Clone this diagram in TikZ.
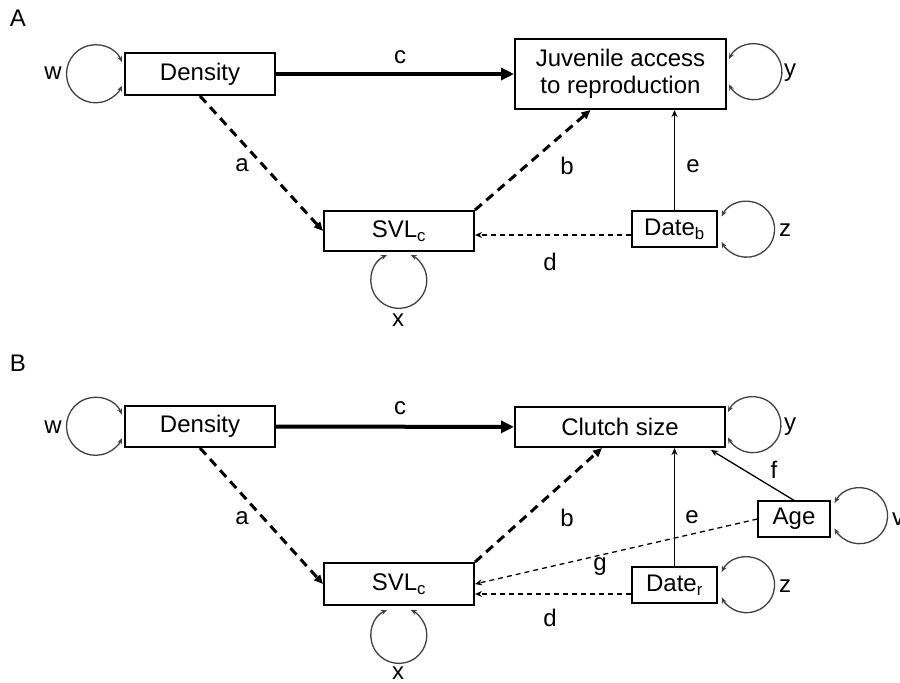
\documentclass[tikz,border=0pt]{standalone}
\usepackage{fontspec}
\setmainfont{Liberation Sans}
\usetikzlibrary{arrows.meta,calc}
\begin{document}
\begin{tikzpicture}[x=1pt,y=1pt,
  every node/.style={font=\fontsize{24}{27}\selectfont},
  box/.style={draw=black,line width=2pt,inner sep=0pt,align=center},
  smallbox/.style={draw=black,line width=1.3pt,inner sep=0pt},
  lab/.style={inner sep=0pt},
  selfloop/.style={draw=black!75,line width=1.3pt,{Stealth[length=6pt,width=5pt]}-{Stealth[length=6pt,width=5pt]}},
  strong/.style={line width=4pt,-{Triangle[length=13pt,width=12pt]}},
  thickdash/.style={line width=3pt,dash pattern=on 9pt off 6pt,-{Triangle[length=9pt,width=8pt]}},
  thindash/.style={line width=1.3pt,dash pattern=on 5pt off 4pt,-{Stealth[length=7pt,width=6pt]}},
  thinline/.style={line width=1.3pt,-{Stealth[length=7pt,width=6pt]}},
]
\useasboundingbox (0,0) rectangle (900,-683);

% ---------- Panel A ----------
\node[lab] (lA) at (18,-18) {A};
\node[box,minimum width=150pt,minimum height=42pt] (densA) at (200,-74) {Density};
\node[box,minimum width=211pt,minimum height=70pt] (juv) at (620.5,-74) {Juvenile access\\to reproduction};
\node[box,minimum width=150pt,minimum height=40pt] (svlA) at (399,-231) {SVL\textsubscript{c}};
\node[smallbox,minimum width=85pt,minimum height=36pt] (dateb) at (674.5,-229) {Date\textsubscript{b}};

\draw[selfloop] ([shift={(-2,12)}]densA.west) arc[start angle=24,end angle=336,radius=29];
\draw[selfloop] ([shift={(2,15)}]juv.east) arc[start angle=153,end angle=-153,radius=28];
\draw[selfloop] ([shift={(4,12.5)}]dateb.east) arc[start angle=153,end angle=-153,radius=28];
\draw[selfloop] ([shift={(-12,-3)}]svlA.south) arc[start angle=115,end angle=425,radius=28];

\draw[strong] (densA) -- (juv);
\draw[thickdash] (densA.south) -- (svlA.west);
\draw[thickdash] (svlA.north east) -- ([xshift=-30pt]juv.south);
\draw[thinline] (dateb.north) -- (dateb.north |- juv.south);
\draw[thindash] ([yshift=-6pt]dateb.west) -- ([yshift=-6pt]dateb.west -| svlA.east);

\node[lab] (wA) at (53,-73) {w};
\node[lab] (cA) at (400,-57) {c};
\node[lab] (yA) at (790,-73) {y};
\node[lab] (aA) at (242,-165) {a};
\node[lab] (bA) at (567,-166) {b};
\node[lab] (eA) at (693,-166) {e};
\node[lab] (zA) at (785,-230) {z};
\node[lab] (dA) at (550,-262) {d};
\node[lab] (xA) at (398,-320) {x};

% ---------- Panel B ----------
\node[lab] (lB) at (18,-363) {B};
\node[box,minimum width=150pt,minimum height=41pt] (densB) at (200,-426.5) {Density};
\node[box,minimum width=210pt,minimum height=40pt] (clutch) at (620,-427) {Clutch size};
\node[box,minimum width=150pt,minimum height=42pt] (svlB) at (399,-584) {SVL\textsubscript{c}};
\node[smallbox,minimum width=85pt,minimum height=36pt] (dater) at (674.5,-585) {Date\textsubscript{r}};
\node[smallbox,minimum width=72pt,minimum height=36pt] (age) at (794,-519) {Age};

\draw[selfloop] ([shift={(-2,12)}]densB.west) arc[start angle=24,end angle=336,radius=29];
\draw[selfloop] ([shift={(2,15)}]clutch.east) arc[start angle=153,end angle=-153,radius=28];
\draw[selfloop] ([shift={(4,13)}]dater.east) arc[start angle=153,end angle=-153,radius=28];
\draw[selfloop] ([shift={(4,16)}]age.east) arc[start angle=153,end angle=-153,radius=28];
\draw[selfloop] ([shift={(-12,-4)}]svlB.south) arc[start angle=115,end angle=425,radius=28];

\draw[strong] (densB) -- (clutch);
\draw[thickdash] (densB.south) -- (svlB.west);
\draw[thickdash] (svlB.north east) -- ([xshift=-18pt]clutch.south);
\draw[thinline] (dater.north) -- (dater.north |- clutch.south);
\draw[thinline] (age.north) -- ([xshift=-15pt,yshift=-2pt]clutch.south east);
\draw[thindash] (age.west) -- (svlB.east);
\draw[thindash] ([yshift=-9pt]dater.west) -- ([yshift=-9pt]dater.west -| svlB.east);

\node[lab] (wB) at (53,-427) {w};
\node[lab] (cB) at (400,-408) {c};
\node[lab] (yB) at (790,-427) {y};
\node[lab] (aB) at (242,-518) {a};
\node[lab] (bB) at (567,-518) {b};
\node[lab] (eB) at (692,-517) {e};
\node[lab] (fB) at (774,-470) {f};
\node[lab] (gB) at (600,-567) {g};
\node[lab] (zB) at (785,-586) {z};
\node[lab] (dB) at (550,-618) {d};
\node[lab] (xB) at (398,-673) {x};
\node[lab,anchor=west] (vB) at (892,-519) {v};
\end{tikzpicture}
\end{document}
